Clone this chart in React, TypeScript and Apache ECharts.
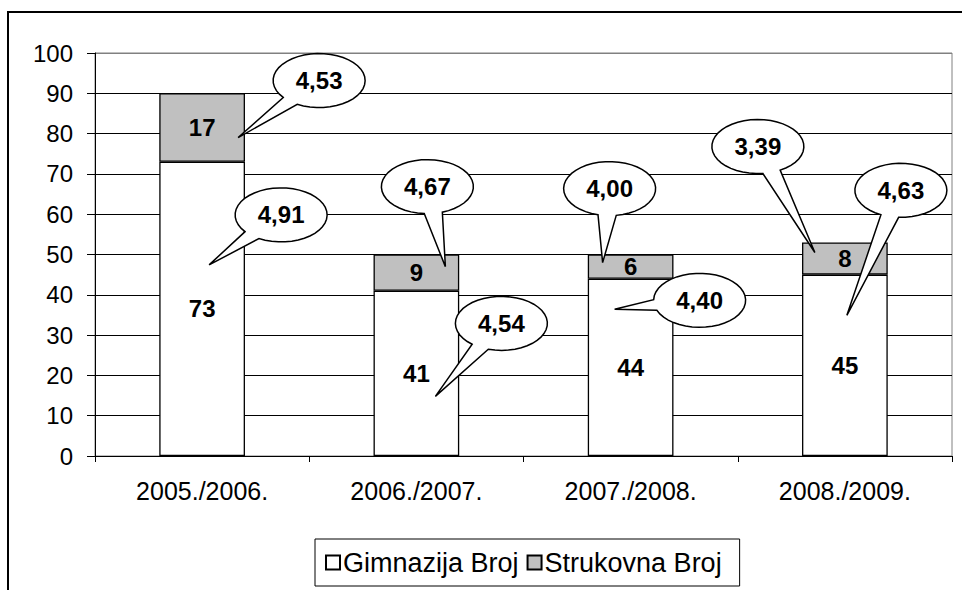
import { useEffect, useRef } from "react";
import * as echarts from "echarts";

const categories = ["2005./2006.", "2006./2007.", "2007./2008.", "2008./2009."];
const gimnazijaBroj = [73, 41, 44, 45];
const strukovnaBroj = [17, 9, 6, 8];
const gimnazijaOcjena = [4.91, 4.54, 4.4, 4.63];
const strukovnaOcjena = [4.53, 4.67, 4.0, 3.39];
const seriesNames = ["Gimnazija Broj", "Strukovna Broj"];

// callout placement: [tipDx, tipDy, ellipseDx, ellipseDy] relative to the segment centre (pixels)
const gimnazijaCallout = [
  [7, -44, 79, -94],
  [19, 23, 85, -50],
  [-16, -58, 69, -67],
  [2, -50, 56, -175],
];
const strukovnaCallout = [
  [36, 10, 117, -47],
  [29, -6, 11, -86],
  [-28, -4, -21, -78],
  [-30, -6, -87, -112],
];

const FONT = "'Liberation Sans', Arial, sans-serif";

function calloutPoints(cx: number, cy: number, rx: number, ry: number, tx: number, ty: number) {
  const ang = Math.atan2((ty - cy) / ry, (tx - cx) / rx);
  const half = 0.2;
  const pts: number[][] = [];
  const n = 40;
  const span = Math.PI * 2 - half * 2;
  for (let k = 0; k <= n; k++) {
    const t = ang + half + (span * k) / n;
    pts.push([cx + rx * Math.cos(t), cy + ry * Math.sin(t)]);
  }
  pts.push([tx, ty]);
  return pts;
}

export default function App() {
  const ref = useRef<HTMLDivElement>(null);
  useEffect(() => {
    if (!ref.current) return;
    const chart = echarts.init(ref.current, undefined, { renderer: "svg" });
    const splitColors = Array.from({ length: 11 }, (_, i) => (i === 10 ? "#808080" : "#000"));
    const labelStyle = {
      show: true,
      position: "inside",
      color: "#000",
      fontFamily: FONT,
      fontWeight: "bold",
      fontSize: 24,
    };
    chart.setOption({
      animation: false,
      backgroundColor: "#fff",
      textStyle: { fontFamily: FONT, color: "#000" },
      grid: {
        left: 95,
        right: 10,
        top: 53,
        bottom: 134,
        show: true,
        borderColor: "#808080",
        borderWidth: 1,
      },
      legend: {
        left: 315,
        top: 539,
        orient: "horizontal",
        icon: "rect",
        itemWidth: 14,
        itemHeight: 14,
        itemGap: 8,
        padding: [10, 18, 10, 10],
        borderColor: "#000",
        borderWidth: 1,
        textStyle: { fontFamily: FONT, fontSize: 27, color: "#000", padding: [0, 0, 0, -2] },
        data: seriesNames,
      },
      xAxis: {
        type: "category",
        data: categories,
        axisLine: { lineStyle: { color: "#000", width: 1 } },
        axisTick: { show: true, length: 6, lineStyle: { color: "#000" } },
        axisLabel: { color: "#000", fontSize: 25, fontFamily: FONT, margin: 22 },
      },
      yAxis: {
        type: "value",
        min: 0,
        max: 100,
        interval: 10,
        axisLine: { show: true, lineStyle: { color: "#000", width: 1 } },
        axisTick: { show: true, length: 8, lineStyle: { color: "#000" } },
        axisLabel: { color: "#000", fontSize: 24, fontFamily: FONT, margin: 22 },
        splitLine: { show: true, lineStyle: { color: splitColors, width: 1 } },
      },
      series: [
        {
          name: seriesNames[0],
          type: "bar",
          stack: "total",
          barWidth: "40%",
          data: gimnazijaBroj,
          itemStyle: { color: "#ffffff", borderColor: "#000", borderWidth: 1.3 },
          label: labelStyle,
        },
        {
          name: seriesNames[1],
          type: "bar",
          stack: "total",
          barWidth: "40%",
          data: strukovnaBroj,
          itemStyle: { color: "#c0c0c0", borderColor: "#000", borderWidth: 1.3 },
          label: labelStyle,
        },
      ],
    });

    const elements: any[] = [
      {
        type: "rect",
        shape: { x: 8, y: 12, width: 2000, height: 2000 },
        style: { fill: "none", stroke: "#000", lineWidth: 2 },
        z: 1,
      },
    ];
    const addCallout = (i: number, mid: number, value: number, off: number[]) => {
      const p = chart.convertToPixel({ gridIndex: 0 }, [i, mid]) as number[];
      const tx = p[0] + off[0];
      const ty = p[1] + off[1];
      const cx = p[0] + off[2];
      const cy = p[1] + off[3];
      elements.push({
        type: "polygon",
        shape: { points: calloutPoints(cx, cy, 46, 27, tx, ty) },
        style: { fill: "#fff", stroke: "#000", lineWidth: 1.5 },
        z: 100,
      });
      elements.push({
        type: "text",
        x: cx,
        y: cy,
        style: {
          text: value.toFixed(2).replace(".", ","),
          fill: "#000",
          font: `bold 24px ${FONT}`,
          align: "center",
          verticalAlign: "middle",
        },
        z: 101,
      });
    };
    categories.forEach((_, i) => {
      addCallout(i, gimnazijaBroj[i] / 2, gimnazijaOcjena[i], gimnazijaCallout[i]);
      addCallout(i, gimnazijaBroj[i] + strukovnaBroj[i] / 2, strukovnaOcjena[i], strukovnaCallout[i]);
    });
    chart.setOption({ graphic: { elements } });

    return () => chart.dispose();
  }, []);
  return (
    <div
      ref={ref}
      style={{ position: "fixed", left: 0, top: 0, width: 962, height: 590, background: "#fff" }}
    />
  );
}
